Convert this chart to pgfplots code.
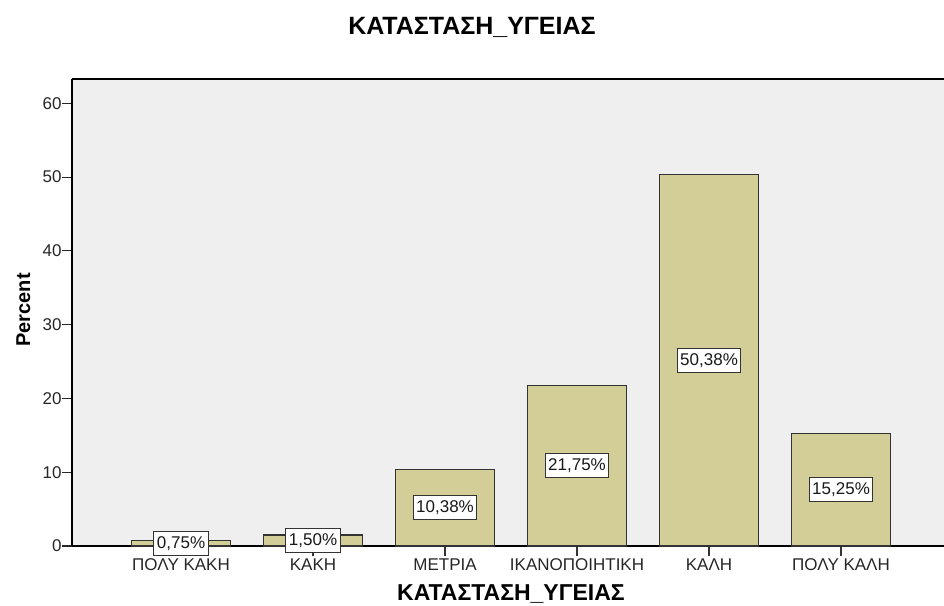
\documentclass[border=0pt]{standalone}
\usepackage{pgfplots}
\pgfplotsset{compat=1.18}
\usepackage{fontspec}
\setmainfont{Liberation Sans}
\definecolor{barfill}{HTML}{D3CE98}
\definecolor{plotbg}{HTML}{EFEFEF}
\begin{document}
\begin{tikzpicture}[x=1pt,y=1pt]
\useasboundingbox (0,0) rectangle (944,605);
\begin{axis}[
  at={(72pt,59pt)}, anchor=south west,
  scale only axis, width=872pt, height=467pt,
  xmin=-0.826, xmax=5.78, ymin=0, ymax=63.3,
  axis background/.style={fill=plotbg},
  axis x line*=bottom, axis y line*=left,
  axis line style={black, line width=1.3pt, -},
  xtick={0,...,5},
  xticklabels={ΠΟΛΥ ΚΑΚΗ, ΚΑΚΗ, ΜΕΤΡΙΑ, ΙΚΑΝΟΠΟΙΗΤΙΚΗ, ΚΑΛΗ, ΠΟΛΥ ΚΑΛΗ},
  ytick={0,10,...,60},
  tick align=outside, major tick length=10pt,
  x tick style={black!80, line width=1.2pt},
  y tick style={black!85, line width=1.2pt},
  ticklabel style={font=\fontsize{17}{19}\selectfont, text=black!85},
  yticklabel style={xshift=3pt},
  xticklabel style={yshift=1pt},
  /pgf/number format/assume math mode=true,
  clip=false,
]
\addplot[ybar, bar width=99pt, fill=barfill, draw=black!80, line width=1.2pt]
  coordinates {(0,0.75) (1,1.50) (2,10.38) (3,21.75) (4,50.38) (5,15.25)};
\addplot[draw=none, mark=none, nodes near coords={\pgfplotspointmeta\%},
  point meta=explicit symbolic,
  every node near coord/.append style={anchor=center, fill=white, draw=black!80,
    line width=1.1pt, font=\fontsize{17}{19}\selectfont, inner xsep=3pt,
    inner ysep=0pt, minimum height=24pt, text=black!90}]
  table[meta=lab, row sep=\\] {
  x y lab \\
  0 0.375 0,75 \\
  1 0.75 1,50 \\
  2 5.19 10,38 \\
  3 10.875 21,75 \\
  4 25.19 50,38 \\
  5 7.625 15,25 \\
  };
\draw[black, line width=1.3pt] (rel axis cs:0,1) -- (rel axis cs:1,1);
\end{axis}
\node[anchor=base, font=\bfseries\fontsize{25}{28}\selectfont] at (472,570) {ΚΑΤΑΣΤΑΣΗ\_ΥΓΕΙΑΣ};
\node[anchor=base, font=\bfseries\fontsize{23}{26}\selectfont] at (511,5) {ΚΑΤΑΣΤΑΣΗ\_ΥΓΕΙΑΣ};
\node[anchor=base, rotate=90, font=\bfseries\fontsize{20}{24}\selectfont] at (30,295) {Percent};
\end{tikzpicture}
\end{document}
